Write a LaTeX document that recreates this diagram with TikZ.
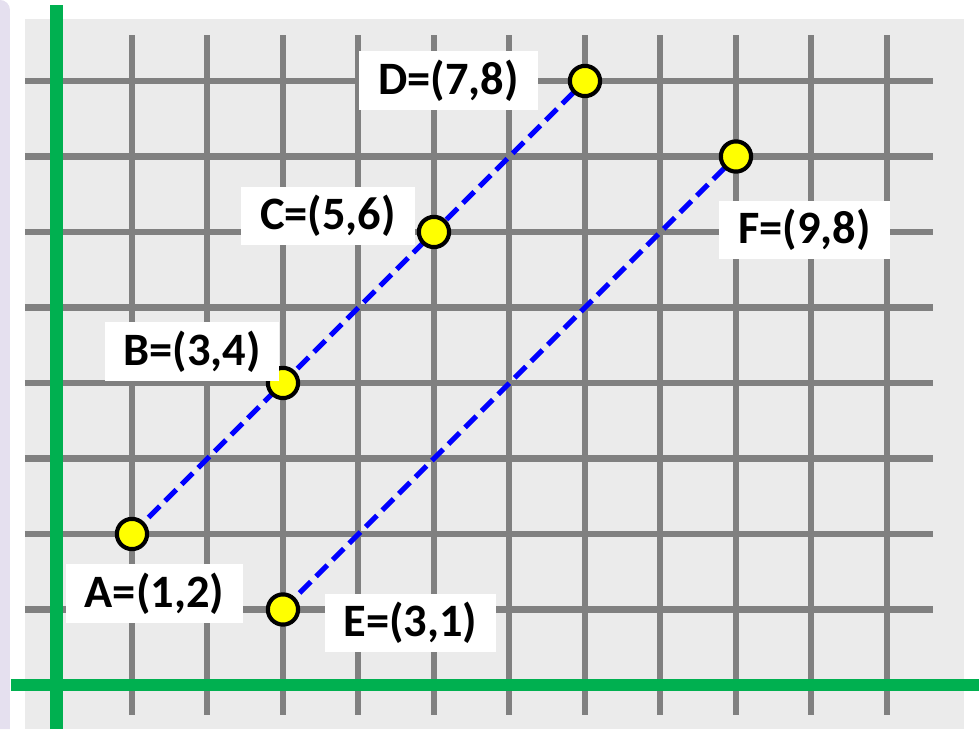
\documentclass[tikz,border=0pt]{standalone}
\usepackage{fontspec}
\newfontfamily\lblfont{Carlito}
\usetikzlibrary{positioning}
\definecolor{axgreen}{HTML}{00B050}
\definecolor{gridgray}{HTML}{808080}
\definecolor{segblue}{HTML}{0000FF}
\definecolor{dotyellow}{HTML}{FFFF00}
\definecolor{paper}{HTML}{EBEBEB}
\definecolor{lilac}{HTML}{E5E0EF}

\begin{document}
\begin{tikzpicture}[
    gridline/.style={draw=gridgray, line width=0.08cm},
    axis/.style={draw=axgreen, line width=0.16cm},
    seg/.style={draw=segblue, line width=0.068cm, dash pattern=on 0.21cm off 0.1cm},
    dot/.style={
      circle, fill=dotyellow, draw=black, line width=0.055cm,
      minimum size=0.4cm, inner sep=0pt,
    },
    lbl/.style={
      fill=white, font=\lblfont\bfseries\fontsize{17.5}{20}\selectfont,
      minimum height=0.77cm, inner xsep=0.25cm, inner ysep=0pt,
    },
  ]
  \useasboundingbox (-0.748,-0.583) rectangle (12.219,9.073);

  % ===== page strip and paper =====
  \fill[lilac] (-0.748,-0.583) -- (-0.748,9.073)
    arc[start angle=90, end angle=0, radius=0.132] -- (-0.616,-0.583) -- cycle;
  \fill[paper] (-0.417,-0.583) rectangle (12.02,8.821);

  % ===== grid and axes =====
  \foreach \i in {1,...,11} \draw[gridline] (\i,-0.397) -- (\i,8.609);
  \foreach \j in {1,...,8} \draw[gridline] (-0.417,\j) -- (11.609,\j);
  \draw[axis] (-0.603,0) -- (12.219,0);
  \draw[axis] (0,-0.583) -- (0,9.007);

  % ===== points and segments =====
  \foreach \p/\x/\y in {A/1/2, B/3/4, C/5/6, D/7/8, E/3/1, F/9/7}
    \coordinate (\p) at (\x,\y);
  \draw[seg] (A) -- (D);
  \draw[seg] (E) -- (F);
  \foreach \p in {A,...,F} \node[dot] (dot\p) at (\p) {};

  % ===== labels =====
  \node[lbl] (labA) at (1.298,1.212) {A=(1,2)};
  \node[lbl] (labB) at (1.795,4.417) {B=(3,4)};
  \node[lbl] (labC) at (3.596,6.212) {C=(5,6)};
  \node[lbl] (labD) at (5.192,8.007) {D=(7,8)};
  \node[lbl] (labE) at (4.689,0.821) {E=(3,1)};
  \node[lbl] (labF) at (9.907,6.026) {F=(9,8)};
\end{tikzpicture}
\end{document}
